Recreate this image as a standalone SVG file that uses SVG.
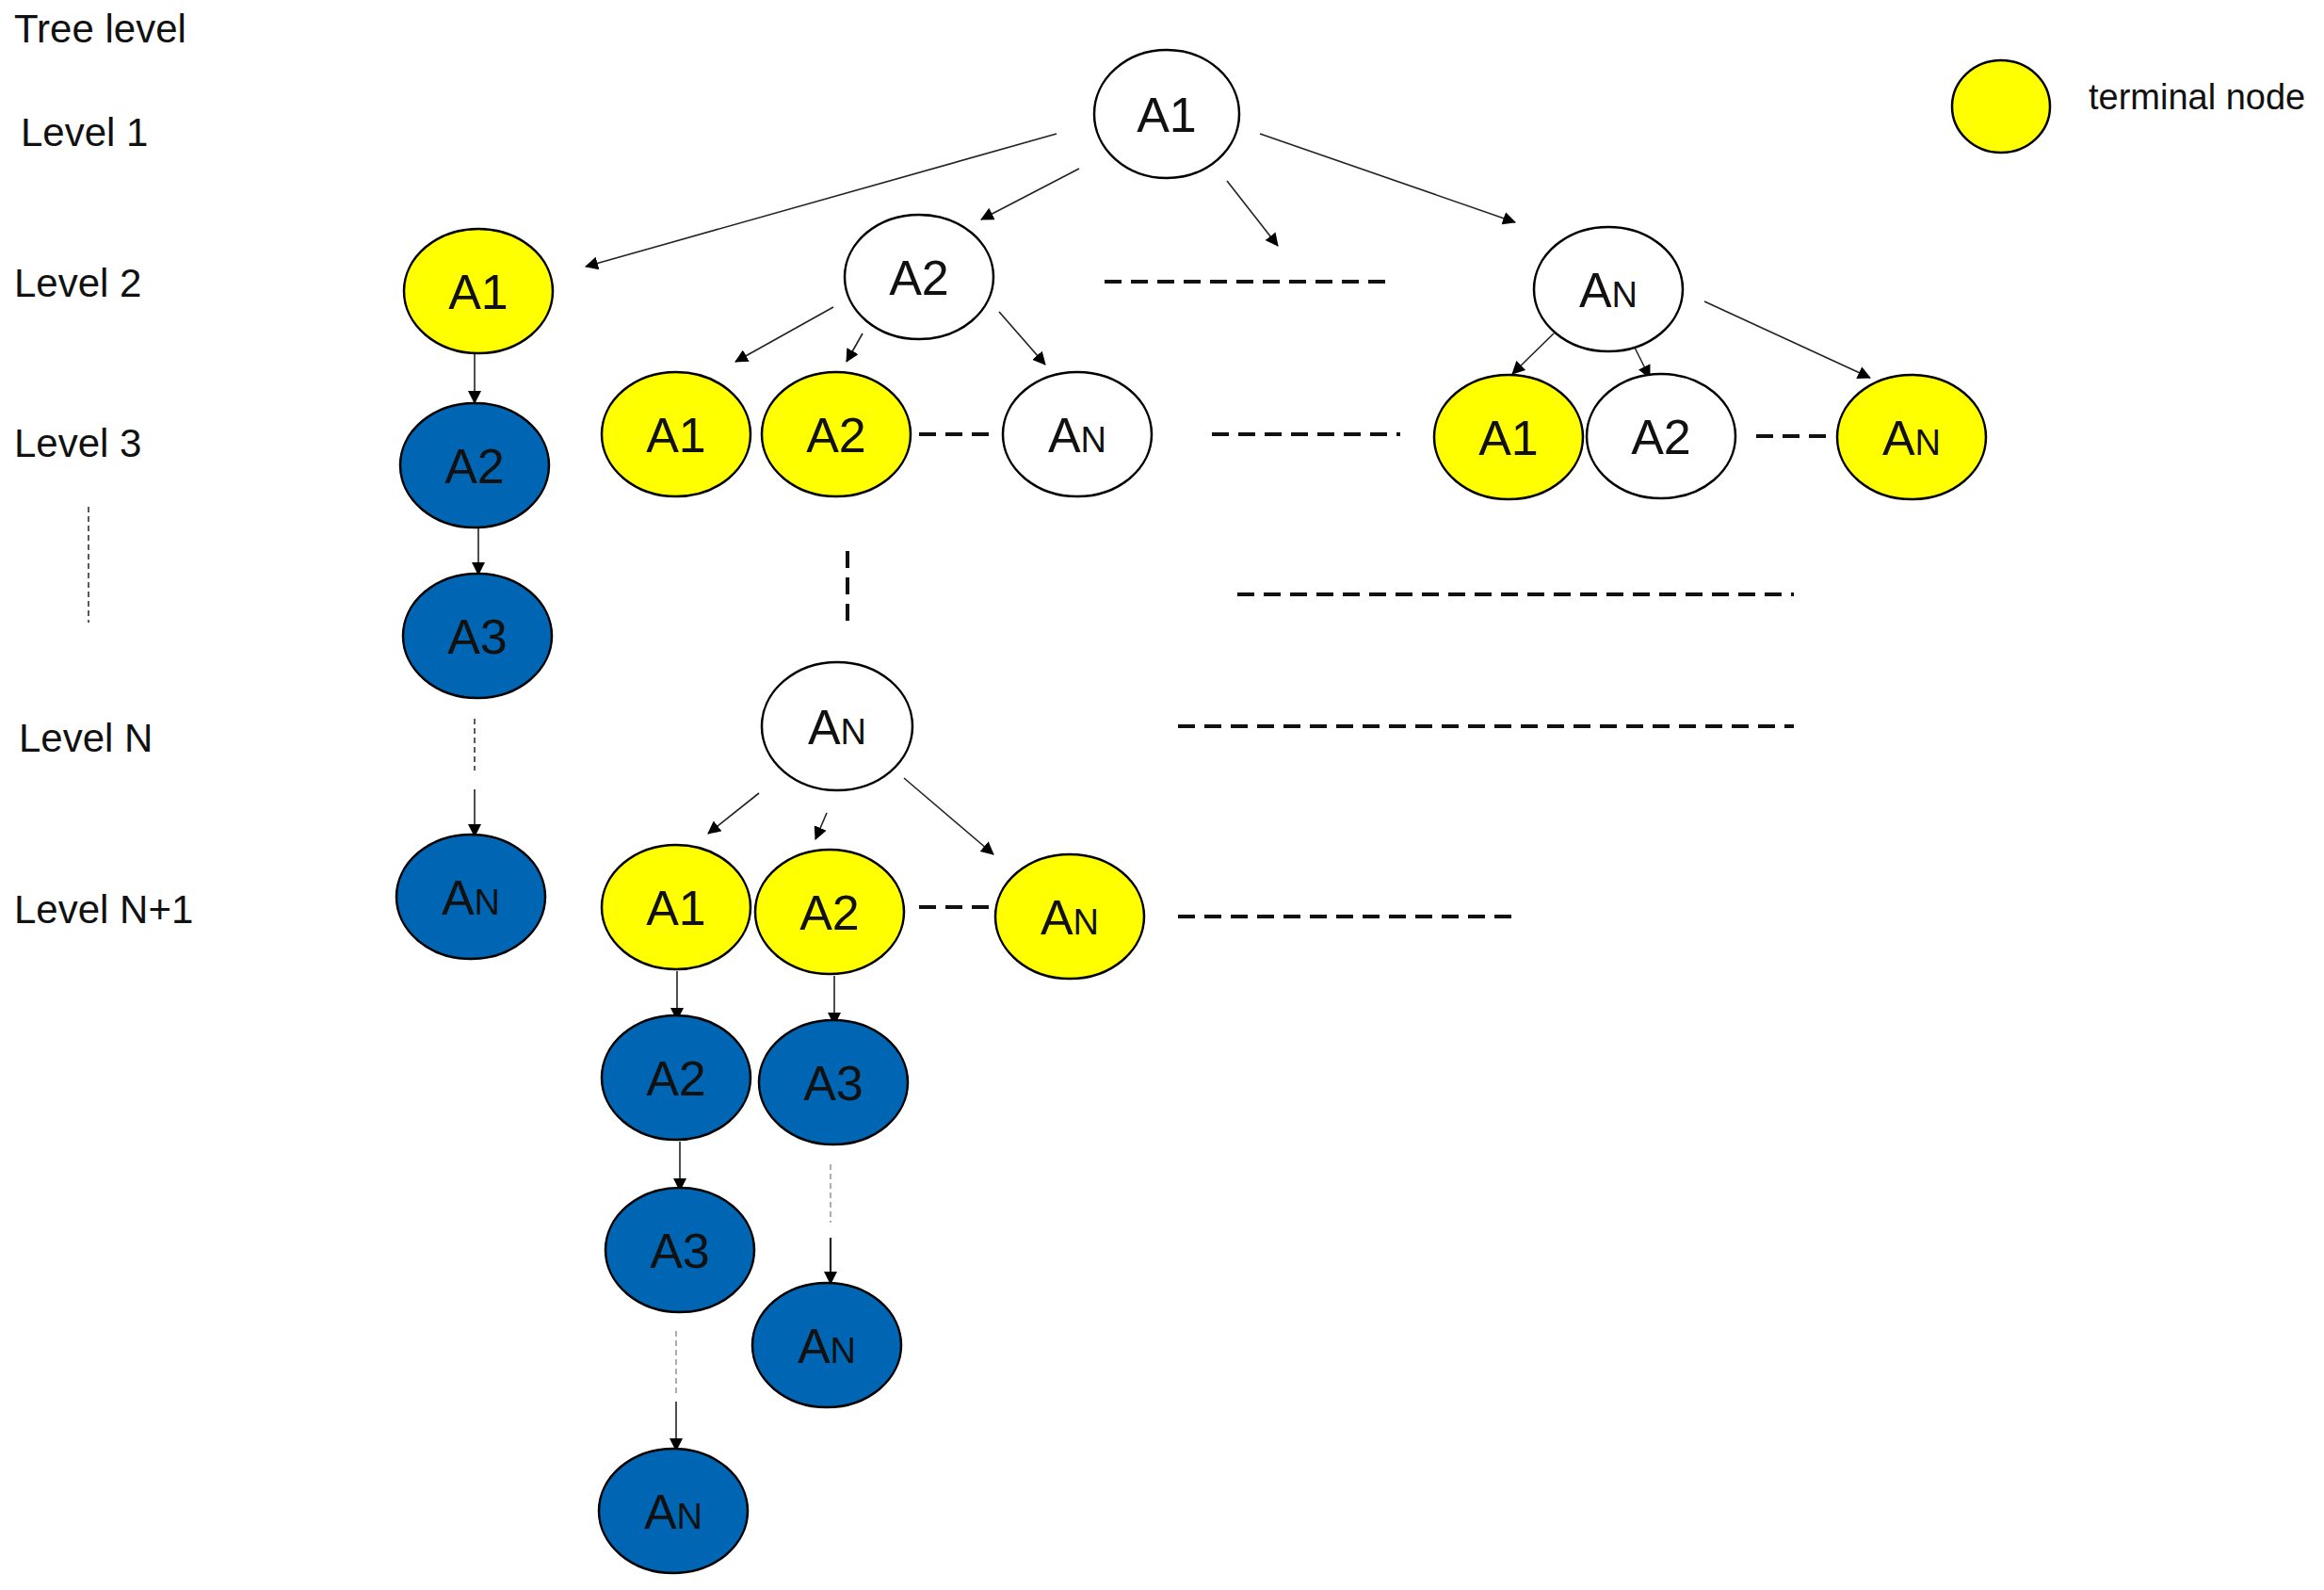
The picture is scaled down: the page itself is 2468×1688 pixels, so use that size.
<svg xmlns="http://www.w3.org/2000/svg" width="2468" height="1688" viewBox="0 0 2468 1688">
<style>
.n{stroke:#000;stroke-width:2.5}
.w{fill:#fff}.y{fill:#ffff00}.b{fill:#0066b3}
.t{font-family:"Liberation Sans",Arial,sans-serif;font-size:52px;text-anchor:middle;fill:#111}
.s{font-size:38px}
.lv{font-family:"Liberation Sans",Arial,sans-serif;font-size:42px;fill:#111}
.a{stroke:#222;stroke-width:1.6;fill:none;marker-end:url(#ah)}
.d{stroke:#111;stroke-width:4;stroke-dasharray:18 10;fill:none}
.dt{stroke:#999;stroke-width:1.6;stroke-dasharray:6 4;fill:none}
</style>
<defs><marker id="ah" markerWidth="14" markerHeight="14" refX="13" refY="7" orient="auto" markerUnits="userSpaceOnUse" viewBox="0 0 14 14"><path d="M0,0 L14,7 L0,14 z" fill="#000"/></marker></defs>
<rect width="2468" height="1688" fill="#fff"/>
<g id="labels">
<text class="lv" x="15" y="45">Tree level</text>
<text class="lv" x="22" y="155">Level 1</text>
<text class="lv" x="15" y="315">Level 2</text>
<text class="lv" x="15" y="485">Level 3</text>
<text class="lv" x="20" y="798">Level N</text>
<text class="lv" x="15" y="980">Level N+1</text>
<text class="lv" x="2218" y="116" style="font-size:38px">terminal node</text>
</g>
<g id="connectors">
<line class="a" x1="1122" y1="142" x2="622" y2="283"/>
<line class="a" x1="1146" y1="179" x2="1042" y2="233"/>
<line class="a" x1="1303" y1="192" x2="1357" y2="261"/>
<line class="a" x1="1338" y1="142" x2="1609" y2="236"/>
<line class="d" x1="1173" y1="299" x2="1480" y2="299"/>
<line class="a" x1="885" y1="326" x2="781" y2="384"/>
<line class="a" x1="916" y1="354" x2="899" y2="384"/>
<line class="a" x1="1061" y1="331" x2="1110" y2="387"/>
<line class="d" x1="976" y1="461" x2="1058" y2="461"/>
<line class="d" x1="1287" y1="461" x2="1487" y2="461"/>
<line class="a" x1="1650" y1="354" x2="1606" y2="397"/>
<line class="a" x1="1731" y1="359" x2="1752" y2="401"/>
<line class="a" x1="1810" y1="320" x2="1986" y2="401"/>
<line class="d" x1="1865" y1="463" x2="1944" y2="463"/>
<line class="d" x1="900" y1="585" x2="900" y2="661"/>
<line class="d" x1="1314" y1="631" x2="1905" y2="631"/>
<line class="d" x1="1251" y1="771" x2="1905" y2="771"/>
<line class="a" x1="806" y1="842" x2="752" y2="885"/>
<line class="a" x1="878" y1="863" x2="866" y2="891"/>
<line class="a" x1="960" y1="826" x2="1055" y2="907"/>
<line class="d" x1="976" y1="963" x2="1055" y2="963"/>
<line class="d" x1="1251" y1="973" x2="1605" y2="973"/>
<line class="a" x1="504" y1="375" x2="504" y2="428"/>
<line class="a" x1="508" y1="560" x2="508" y2="610"/>
<line class="dt" x1="504" y1="763" x2="504" y2="818" style="stroke:#333"/>
<line class="a" x1="504" y1="838" x2="504" y2="888"/>
<line class="dt" x1="94" y1="538" x2="94" y2="661" style="stroke:#333"/>
<line class="a" x1="719" y1="1031" x2="719" y2="1083"/>
<line class="a" x1="722" y1="1212" x2="722" y2="1264"/>
<line class="dt" x1="718" y1="1413" x2="718" y2="1480"/>
<line class="a" x1="718" y1="1488" x2="718" y2="1540"/>
<line class="a" x1="886" y1="1036" x2="886" y2="1088"/>
<line class="dt" x1="882" y1="1236" x2="882" y2="1298"/>
<line class="a" x1="882" y1="1314" x2="882" y2="1363" style="stroke-width:2.2"/>
</g>
<g id="root"><ellipse class="n w" cx="1239" cy="121" rx="77" ry="68"/><text class="t" x="1239" y="140">A1</text></g>
<g id="l2a1"><ellipse class="n y" cx="508" cy="309" rx="79" ry="66"/><text class="t" x="508" y="328">A1</text></g>
<g id="l2a2"><ellipse class="n w" cx="976" cy="294" rx="79" ry="66"/><text class="t" x="976" y="313">A2</text></g>
<g id="l2an"><ellipse class="n w" cx="1708" cy="307" rx="79" ry="66"/><text class="t" x="1708" y="326">A<tspan class="s">N</tspan></text></g>
<g id="l3a1"><ellipse class="n y" cx="718" cy="461" rx="79" ry="66"/><text class="t" x="718" y="480">A1</text></g>
<g id="l3a2"><ellipse class="n y" cx="888" cy="461" rx="79" ry="66"/><text class="t" x="888" y="480">A2</text></g>
<g id="l3an"><ellipse class="n w" cx="1144" cy="461" rx="79" ry="66"/><text class="t" x="1144" y="480">A<tspan class="s">N</tspan></text></g>
<g id="r3a1"><ellipse class="n y" cx="1602" cy="464" rx="79" ry="66"/><text class="t" x="1602" y="483">A1</text></g>
<g id="r3a2"><ellipse class="n w" cx="1764" cy="463" rx="79" ry="66"/><text class="t" x="1764" y="482">A2</text></g>
<g id="r3an"><ellipse class="n y" cx="2030" cy="464" rx="79" ry="66"/><text class="t" x="2030" y="483">A<tspan class="s">N</tspan></text></g>
<g id="c1a2"><ellipse class="n b" cx="504" cy="494" rx="79" ry="66"/><text class="t" x="504" y="513">A2</text></g>
<g id="c1a3"><ellipse class="n b" cx="507" cy="675" rx="79" ry="66"/><text class="t" x="507" y="694">A3</text></g>
<g id="c1an"><ellipse class="n b" cx="500" cy="952" rx="79" ry="66"/><text class="t" x="500" y="971">A<tspan class="s">N</tspan></text></g>
<g id="lnan"><ellipse class="n w" cx="889" cy="771" rx="80" ry="68"/><text class="t" x="889" y="790">A<tspan class="s">N</tspan></text></g>
<g id="n1a1"><ellipse class="n y" cx="718" cy="963" rx="79" ry="66"/><text class="t" x="718" y="982">A1</text></g>
<g id="n1a2"><ellipse class="n y" cx="881" cy="968" rx="79" ry="66"/><text class="t" x="881" y="987">A2</text></g>
<g id="n1an"><ellipse class="n y" cx="1136" cy="973" rx="79" ry="66"/><text class="t" x="1136" y="992">A<tspan class="s">N</tspan></text></g>
<g id="b1a2"><ellipse class="n b" cx="718" cy="1144" rx="79" ry="66"/><text class="t" x="718" y="1163">A2</text></g>
<g id="b2a3"><ellipse class="n b" cx="885" cy="1149" rx="79" ry="66"/><text class="t" x="885" y="1168">A3</text></g>
<g id="b1a3"><ellipse class="n b" cx="722" cy="1327" rx="79" ry="66"/><text class="t" x="722" y="1346">A3</text></g>
<g id="b2an"><ellipse class="n b" cx="878" cy="1428" rx="79" ry="66"/><text class="t" x="878" y="1447">A<tspan class="s">N</tspan></text></g>
<g id="b1an"><ellipse class="n b" cx="715" cy="1604" rx="79" ry="66"/><text class="t" x="715" y="1623">A<tspan class="s">N</tspan></text></g>
<g id="legend"><ellipse class="n y" cx="2125" cy="113" rx="52" ry="49"/></g>
</svg>
